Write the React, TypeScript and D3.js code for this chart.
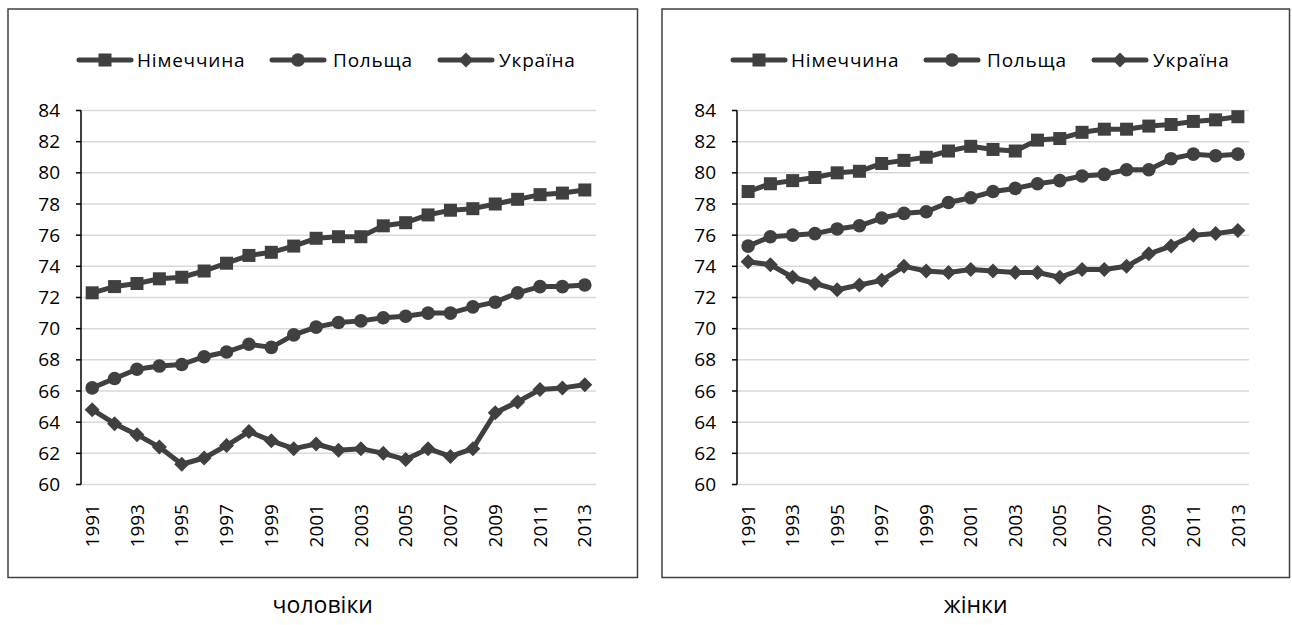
import * as d3 from "d3";
import React from "react";

// categories
const years = [
  "1991", "1992", "1993", "1994", "1995", "1996", "1997", "1998", "1999", "2000", "2001", "2002",
  "2003", "2004", "2005", "2006", "2007", "2008", "2009", "2010", "2011", "2012", "2013",
];
const yTicks = [60, 62, 64, 66, 68, 70, 72, 74, 76, 78, 80, 82, 84];
const seriesNames = ["Німеччина", "Польща", "Україна"];

// men
const germanyMen = [72.3, 72.7, 72.9, 73.2, 73.3, 73.7, 74.2, 74.7, 74.9, 75.3, 75.8, 75.9, 75.9, 76.6, 76.8, 77.3, 77.6, 77.7, 78.0, 78.3, 78.6, 78.7, 78.9];
const polandMen = [66.2, 66.8, 67.4, 67.6, 67.7, 68.2, 68.5, 69.0, 68.8, 69.6, 70.1, 70.4, 70.5, 70.7, 70.8, 71.0, 71.0, 71.4, 71.7, 72.3, 72.7, 72.7, 72.8];
const ukraineMen = [64.8, 63.9, 63.2, 62.4, 61.3, 61.7, 62.5, 63.4, 62.8, 62.3, 62.6, 62.2, 62.3, 62.0, 61.6, 62.3, 61.8, 62.3, 64.6, 65.3, 66.1, 66.2, 66.4];

// women
const germanyWomen = [78.8, 79.3, 79.5, 79.7, 80.0, 80.1, 80.6, 80.8, 81.0, 81.4, 81.7, 81.5, 81.4, 82.1, 82.2, 82.6, 82.8, 82.8, 83.0, 83.1, 83.3, 83.4, 83.6];
const polandWomen = [75.3, 75.9, 76.0, 76.1, 76.4, 76.6, 77.1, 77.4, 77.5, 78.1, 78.4, 78.8, 79.0, 79.3, 79.5, 79.8, 79.9, 80.2, 80.2, 80.9, 81.2, 81.1, 81.2];
const ukraineWomen = [74.3, 74.1, 73.3, 72.9, 72.5, 72.8, 73.1, 74.0, 73.7, 73.6, 73.8, 73.7, 73.6, 73.6, 73.3, 73.8, 73.8, 74.0, 74.8, 75.3, 76.0, 76.1, 76.3];

const INK = "#404040";
const FONT = "'Open Sans', 'DejaVu Sans', sans-serif";

type Marker = "square" | "circle" | "diamond";
const markers: Marker[] = ["square", "circle", "diamond"];

const MarkerShape: React.FC<{ kind: Marker; x: number; y: number }> = ({ kind, x, y }) => {
  if (kind === "square") return <rect x={x - 6.5} y={y - 6.5} width={13} height={13} fill={INK} />;
  if (kind === "circle") return <circle cx={x} cy={y} r={6.8} fill={INK} />;
  return <path d={`M${x},${y - 7.5}L${x + 7.5},${y}L${x},${y + 7.5}L${x - 7.5},${y}Z`} fill={INK} />;
};

interface PanelProps {
  left: number;
  frameWidth: number;
  plotLeft: number;
  plotRight: number;
  title: string;
  series: number[][];
}

const Panel: React.FC<PanelProps> = ({ left, frameWidth, plotLeft, plotRight, title, series }) => {
  const top = 110.5;
  const bottom = 484.5;
  const x = d3.scaleBand<string>().domain(years).range([plotLeft, plotRight]).padding(0);
  const cx = (d: string) => (x(d) ?? 0) + x.bandwidth() / 2;
  const y = d3.scaleLinear().domain([60, 84]).range([bottom, top]);
  const line = d3
    .line<number>()
    .x((_, i) => cx(years[i]))
    .y((v) => y(v));

  // legend positions (relative to frame left)
  const legendItems = [
    { lx: 69, tx: 129 },
    { lx: 262, tx: 325 },
    { lx: 430, tx: 491 },
  ];
  const legendY = 60;

  return (
    <g>
      <rect x={left} y={9} width={frameWidth} height={568.5} fill="white" stroke={INK} strokeWidth={1.5} />

      {/* legend */}
      {legendItems.map((it, i) => (
        <g key={seriesNames[i]}>
          <line
            x1={left + it.lx + 2}
            x2={left + it.lx + 54}
            y1={legendY}
            y2={legendY}
            stroke={INK}
            strokeWidth={5}
            strokeLinecap="round"
          />
          <MarkerShape kind={markers[i]} x={left + it.lx + 28} y={legendY} />
          <text
            x={left + it.tx}
            y={legendY}
            dy="0.35em"
            fontFamily={FONT}
            fontSize={19}
            letterSpacing={0.8}
            fill="#000"
          >
            {seriesNames[i]}
          </text>
        </g>
      ))}

      {/* grid */}
      {yTicks.map((t) => (
        <line key={t} x1={plotLeft} x2={plotRight} y1={y(t)} y2={y(t)} stroke="#d9d9d9" strokeWidth={1.5} />
      ))}

      {/* y axis */}
      <line x1={plotLeft} x2={plotLeft} y1={top} y2={bottom} stroke="#000" strokeWidth={1.5} />
      {yTicks.map((t) => (
        <g key={"t" + t}>
          <line x1={plotLeft - 5} x2={plotLeft} y1={y(t)} y2={y(t)} stroke="#000" strokeWidth={1.5} />
          <text
            x={plotLeft - 21}
            y={y(t)}
            dy="0.35em"
            textAnchor="end"
            fontFamily={FONT}
            fontSize={19}
            fill="#000"
          >
            {t}
          </text>
        </g>
      ))}

      {/* x labels */}
      {years
        .filter((_, i) => i % 2 === 0)
        .map((yr) => (
          <text
            key={yr}
            transform={`translate(${cx(yr)},${504}) rotate(-90)`}
            dy="0.35em"
            textAnchor="end"
            fontFamily={FONT}
            fontSize={19}
            fill="#000"
          >
            {yr}
          </text>
        ))}

      {/* series */}
      {series.map((s, si) => (
        <g key={"s" + si}>
          <path d={line(s) ?? ""} fill="none" stroke={INK} strokeWidth={5} strokeLinejoin="round" />
          {s.map((v, i) => (
            <MarkerShape key={i} kind={markers[si]} x={cx(years[i])} y={y(v)} />
          ))}
        </g>
      ))}

      <text
        x={left + frameWidth / 2}
        y={613}
        textAnchor="middle"
        fontFamily={FONT}
        fontSize={23}
        fill="#000"
      >
        {title}
      </text>
    </g>
  );
};

export default function App() {
  return (
    <svg
      width={1292}
      height={625}
      style={{ position: "absolute", left: 0, top: 0, background: "white" }}
    >
      <rect width={1292} height={625} fill="white" />
      <Panel
        left={8}
        frameWidth={629.5}
        plotLeft={81}
        plotRight={596}
        title="чоловіки"
        series={[germanyMen, polandMen, ukraineMen]}
      />
      <Panel
        left={662}
        frameWidth={627.5}
        plotLeft={737}
        plotRight={1249}
        title="жінки"
        series={[germanyWomen, polandWomen, ukraineWomen]}
      />
    </svg>
  );
}
